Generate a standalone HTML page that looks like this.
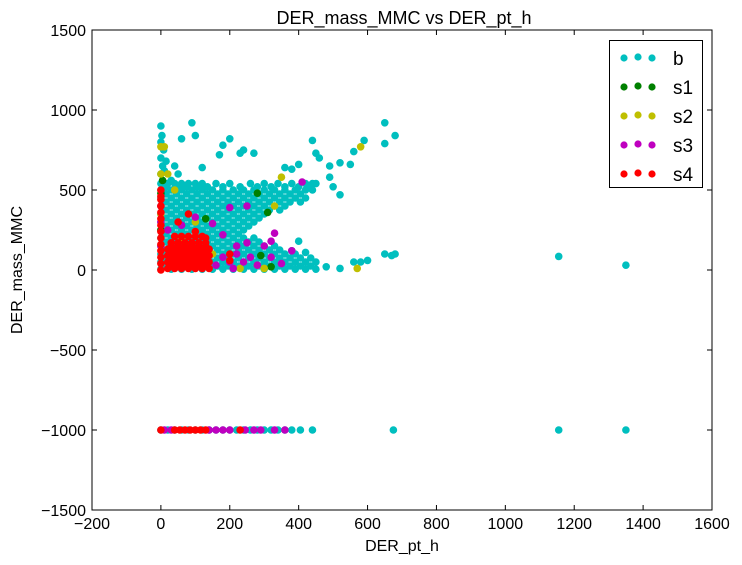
<!DOCTYPE html>
<html><head><meta charset="utf-8"><style>
html,body{margin:0;padding:0;background:#fff;}
svg{display:block;font-family:"Liberation Sans",sans-serif;}
</style></head><body>
<svg id="chart" width="742" height="565" viewBox="0 0 742 565">
<rect x="0" y="0" width="742" height="565" fill="#fff"/>
<text x="404" y="24" text-anchor="middle" font-size="18">DER_mass_MMC vs DER_pt_h</text>
<text x="402" y="551" text-anchor="middle" font-size="16">DER_pt_h</text>
<text x="22" y="270" text-anchor="middle" font-size="16" transform="rotate(-90 22 270)">DER_mass_MMC</text>
<g id="marks"></g>
<g id="axes"></g>
<rect x="92" y="30" width="620" height="480" fill="none" stroke="#000" stroke-width="1"/>
<g id="legend">
<rect x="609.5" y="40.5" width="93" height="147" fill="#fff" stroke="#000" stroke-width="1"/>
</g>
</svg>
<script>
const xTicks=[-200,0,200,400,600,800,1000,1200,1400,1600];
const yTicks=[-1500,-1000,-500,0,500,1000,1500];
const seriesNames=["b","s1","s2","s3","s4"];
const seriesColors=["#00bfbf","#008000","#bfbf00","#bf00bf","#ff0000"];

const bX=[0,20,40,60,80,100,120,160,200,260,300,340,380,420,450,
0,30,60,90,120,150,180,210,240,270,300,330,360,390,420,440,
0,30,60,90,120,150,180,210,240,270,300,330,360,390,420,
0,30,60,90,120,150,180,210,240,270,300,330,360,
0,30,60,90,120,150,180,210,240,270,300,
0,30,60,90,120,150,180,210,240,270,
0,30,60,90,120,150,180,210,240,
0,30,60,90,120,150,180,210,240,270,
0,30,60,90,120,150,180,210,240,270,300,330,
0,30,60,90,120,150,180,210,240,270,300,330,360,390,
0,30,60,90,120,150,180,210,240,270,300,330,360,390,420,450,
0,30,60,90,120,150,180,210,240,270,300,330,360,390,420,450,
0,5,0,8,0,3,0,10,15,30,50,40,
60,90,100,200,240,170,180,120,230,270,360,380,400,440,450,460,490,520,550,560,590,650,650,680,490,440,500,520,560,600,650,680,670,580,520,480,1155,1350,400,380,420,
0,20,40,60,80,100,120,140,160,180,200,220,240,260,280,300,320,340,360,380,405,440,675,1155,1350];
const bY=[540,540,540,540,540,540,540,540,540,540,540,540,540,540,540,
500,500,500,500,500,500,500,500,500,500,500,500,500,500,500,500,
450,450,450,450,450,450,450,450,450,450,450,450,450,450,450,
400,400,400,400,400,400,400,400,400,400,400,400,400,
350,350,350,350,350,350,350,350,350,350,350,
300,300,300,300,300,300,300,300,300,300,
250,250,250,250,250,250,250,250,250,
200,200,200,200,200,200,200,200,200,200,
150,150,150,150,150,150,150,150,150,150,150,150,
100,100,100,100,100,100,100,100,100,100,100,100,100,100,
50,50,50,50,50,50,50,50,50,50,50,50,50,50,50,50,
5,5,5,5,5,5,5,5,5,5,5,5,5,5,5,5,
600,650,700,750,800,840,900,620,680,560,600,650,
820,920,840,820,750,720,780,640,730,730,640,630,660,810,730,700,650,670,660,740,810,920,790,840,580,540,520,470,50,60,100,100,90,50,10,20,85,30,180,120,110,
-1000,-1000,-1000,-1000,-1000,-1000,-1000,-1000,-1000,-1000,-1000,-1000,-1000,-1000,-1000,-1000,-1000,-1000,-1000,-1000,-1000,-1000,-1000,-1000,-1000];

const bFillX=[15,45,75,105,135,180,230,280,320,360,400,435,
15,45,75,105,135,165,195,225,255,285,315,345,375,405,
15,45,75,105,135,165,195,225,255,285,315,345,375,405,
15,45,75,105,135,165,195,225,255,285,315,345,
15,45,75,105,135,165,195,225,255,285,
15,45,75,105,135,165,195,225,255,
15,45,75,105,135,165,195,225,
15,45,75,105,135,165,195,225,255,285,
15,45,75,105,135,165,195,225,255,285,315,345,
15,45,75,105,135,165,195,225,255,285,315,345,375,405,435,
15,45,75,105,135,165,195,225,255,285,315,345,375,405,435];
const bFillY=[520,520,520,520,520,520,520,520,520,520,520,520,
475,475,475,475,475,475,475,475,475,475,475,475,475,475,
425,425,425,425,425,425,425,425,425,425,425,425,425,425,
375,375,375,375,375,375,375,375,375,375,375,375,
325,325,325,325,325,325,325,325,325,325,
275,275,275,275,275,275,275,275,275,
225,225,225,225,225,225,225,225,
175,175,175,175,175,175,175,175,175,175,
125,125,125,125,125,125,125,125,125,125,125,125,
75,75,75,75,75,75,75,75,75,75,75,75,75,75,75,
25,25,25,25,25,25,25,25,25,25,25,25,25,25,25];

const s1X=[0,5,280,310,290,130,0,320];
const s1Y=[480,560,480,360,90,320,250,20];

const s2X=[0,10,0,20,580,350,40,330,570,300,280,0,60,100,150,230,120];
const s2Y=[770,770,600,600,770,580,500,400,10,10,30,350,200,300,100,10,40];

const s3X=[0,0,20,60,100,150,180,200,220,240,260,280,250,300,320,330,350,320,200,220,180,160,210,40,100,250,380,410,0,
10,30,140,160,180,200,245,270,290,330,360];
const s3Y=[400,300,250,280,330,290,220,50,100,50,80,30,170,150,180,230,40,80,390,150,80,30,10,150,90,400,120,550,150,
-1000,-1000,-1000,-1000,-1000,-1000,-1000,-1000,-1000,-1000,-1000];

const s4X=[20,40,60,80,100,120,140,20,40,60,80,100,120,140,20,40,60,80,100,120,140,20,40,60,80,100,120,140,30,50,70,90,110,130,
30,50,70,90,110,130,30,50,70,90,110,130,30,50,70,90,110,130,30,50,70,90,110,130,40,60,80,100,120,
0,0,0,0,0,0,0,0,0,0,0,0,0,130,100,200,200,50,80,0,
0,40,55,70,85,100,115,130,230];
const s4Y=[10,10,10,10,10,10,10,50,50,50,50,50,50,50,90,90,90,90,90,90,90,130,130,130,130,130,130,130,170,170,170,170,170,170,
30,30,30,30,30,30,70,70,70,70,70,70,110,110,110,110,110,110,150,150,150,150,150,150,210,210,210,210,210,
0,40,80,120,160,200,240,280,320,360,400,440,500,200,240,60,100,300,350,460,
-1000,-1000,-1000,-1000,-1000,-1000,-1000,-1000,-1000];

const allX=[bX.concat(bFillX),s1X,s2X,s3X,s4X];
const allY=[bY.concat(bFillY),s1Y,s2Y,s3Y,s4Y];

const L=92,R=712,T=30,B=510;
function sx(v){return L+(v+200)/1800*(R-L);}
function sy(v){return B-(v+1500)/3000*(B-T);}
const NS="http://www.w3.org/2000/svg";
const marks=document.getElementById('marks');
for(let s=0;s<allX.length;s++){
  const g=document.createElementNS(NS,'g');
  
  
  for(let i=0;i<allX[s].length;i++){
    const c=document.createElementNS(NS,'circle');
    c.setAttribute('cx',sx(allX[s][i]));
    c.setAttribute('cy',sy(allY[s][i]));
    c.setAttribute('r',3.8);
    c.setAttribute('fill',seriesColors[s]);
    
    
    g.appendChild(c);
  }
  marks.appendChild(g);
}
const axes=document.getElementById('axes');
xTicks.forEach(t=>{
  const x=sx(t);
  const l1=document.createElementNS(NS,'path');
  l1.setAttribute('d',`M${x} ${B}v-5M${x} ${T}v5`);
  l1.setAttribute('stroke','#000');
  
  
  axes.appendChild(l1);
  const tx=document.createElementNS(NS,'text');
  tx.setAttribute('x',x);tx.setAttribute('y',B+19);
  tx.setAttribute('text-anchor','middle');tx.setAttribute('font-size','16');
  tx.textContent=(t<0?'\u2212'+(-t):t);
  
  
  axes.appendChild(tx);
});
yTicks.forEach(t=>{
  const y=sy(t);
  const l1=document.createElementNS(NS,'path');
  l1.setAttribute('d',`M${L} ${y}h5M${R} ${y}h-5`);
  l1.setAttribute('stroke','#000');
  
  
  axes.appendChild(l1);
  const tx=document.createElementNS(NS,'text');
  tx.setAttribute('x',L-6);tx.setAttribute('y',y+6);
  tx.setAttribute('text-anchor','end');tx.setAttribute('font-size','16');
  tx.textContent=(t<0?'\u2212'+(-t):t);
  
  
  axes.appendChild(tx);
});
const leg=document.getElementById('legend');
seriesNames.forEach((n,i)=>{
  const y=58+i*29;
  const g=document.createElementNS(NS,'g');
  
  
  [[624,0],[638,-1],[652,0]].forEach(p=>{
    const c=document.createElementNS(NS,'circle');
    c.setAttribute('cx',p[0]);c.setAttribute('cy',y+p[1]);c.setAttribute('r',3.6);
    c.setAttribute('fill',seriesColors[i]);
    g.appendChild(c);
  });
  const t=document.createElementNS(NS,'text');
  t.setAttribute('x',673);t.setAttribute('y',y+7);t.setAttribute('font-size','19');
  t.textContent=n;
  g.appendChild(t);
  leg.appendChild(g);
});
</script>
</body></html>
